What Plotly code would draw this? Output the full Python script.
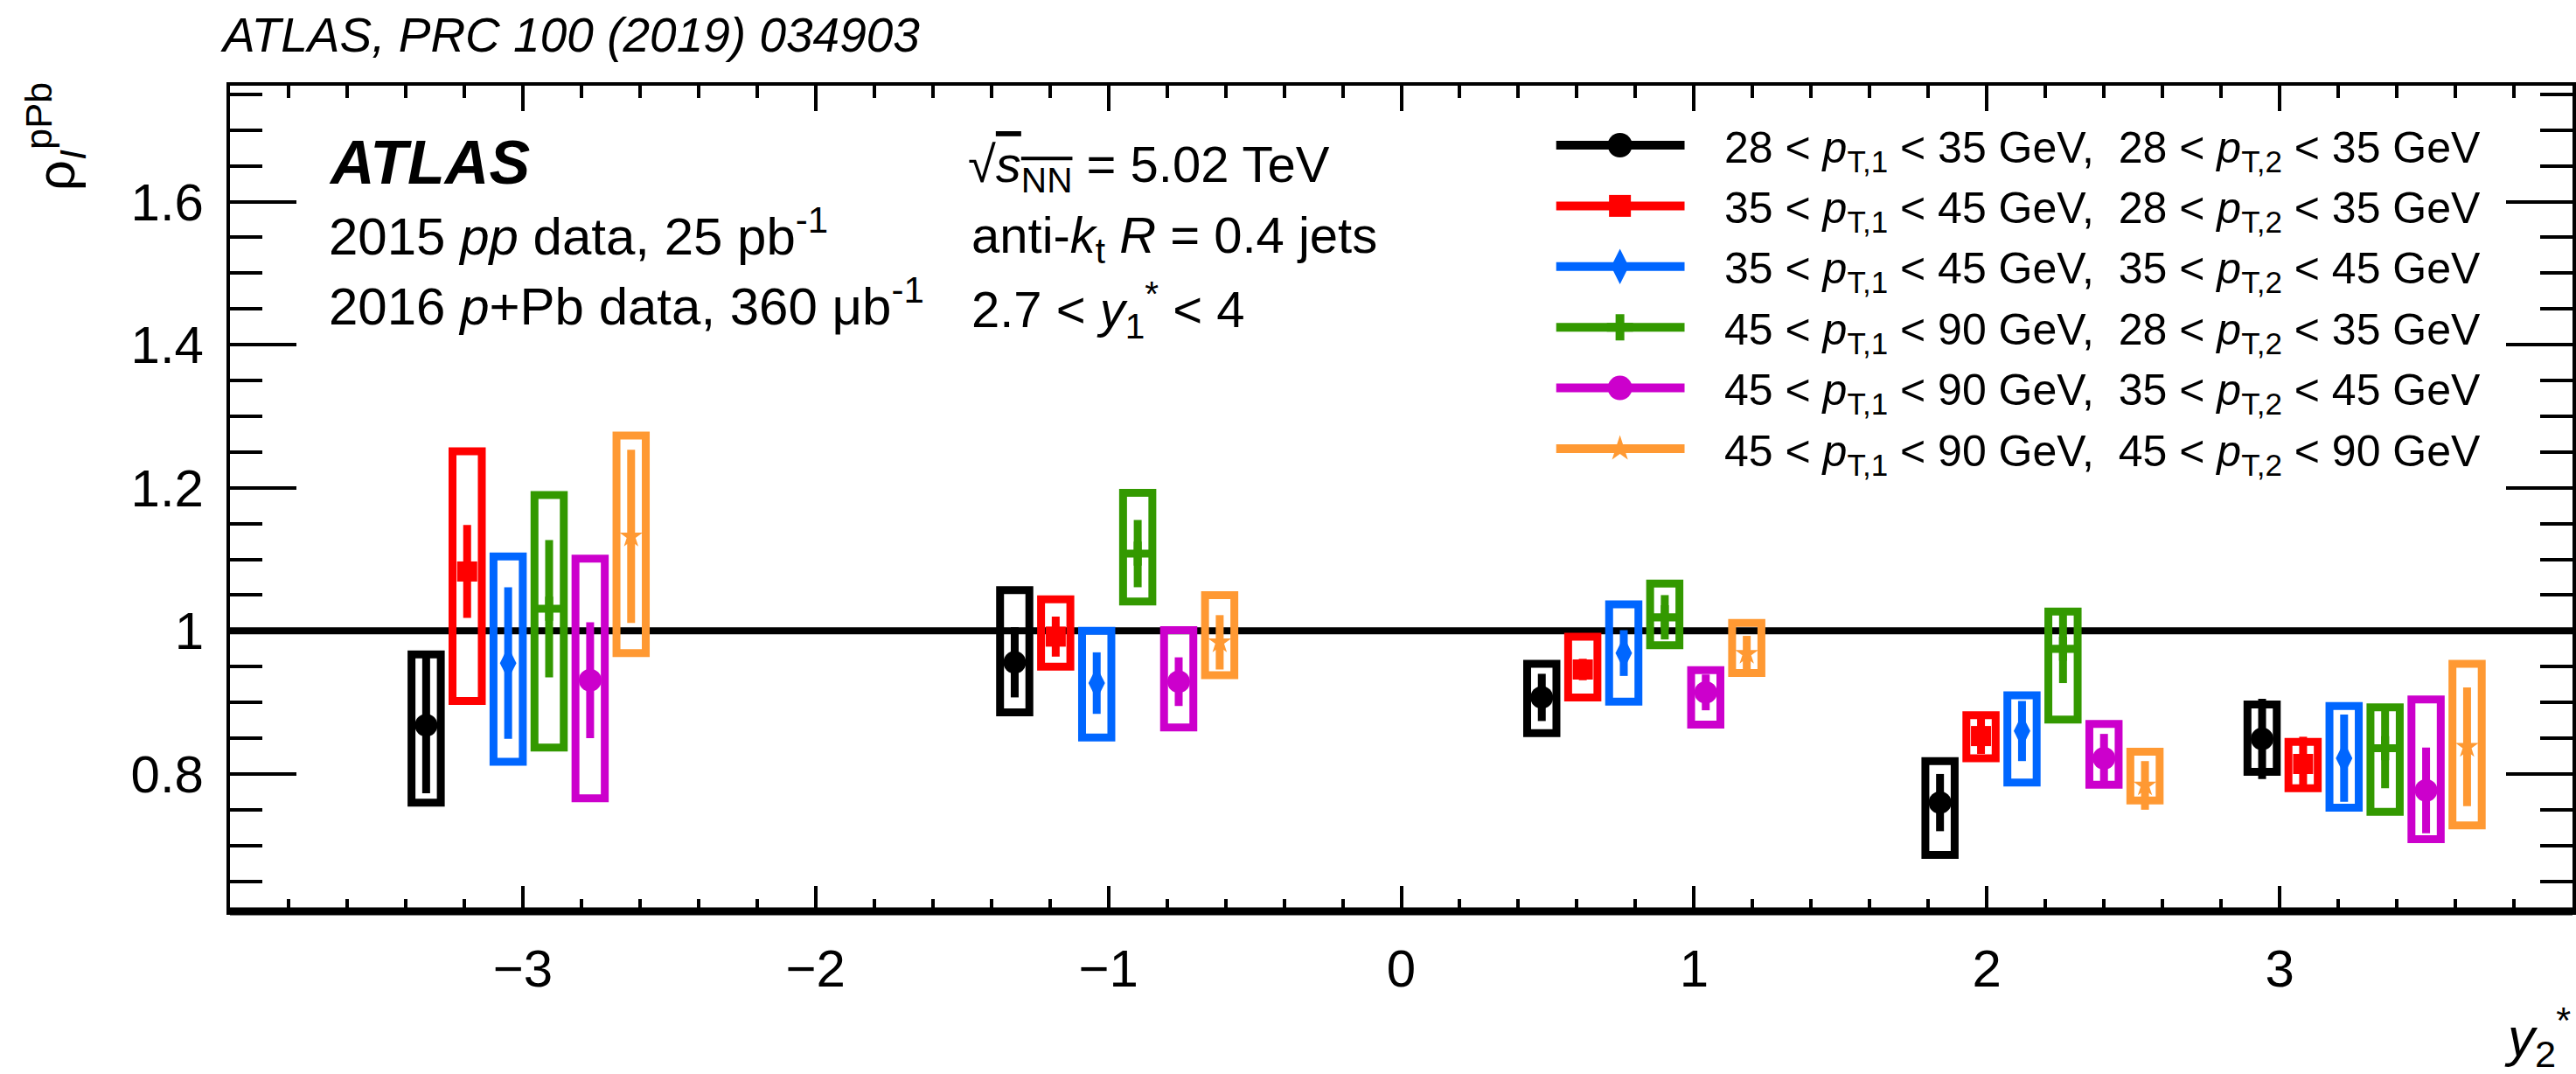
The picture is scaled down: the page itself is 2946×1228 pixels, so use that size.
import plotly.graph_objects as go

# ---------------- data ----------------
series_labels = [
    "28 &lt; <i>p</i><sub>T,1</sub> &lt; 35 GeV,\u00a0\u00a028 &lt; <i>p</i><sub>T,2</sub> &lt; 35 GeV",
    "35 &lt; <i>p</i><sub>T,1</sub> &lt; 45 GeV,\u00a0\u00a028 &lt; <i>p</i><sub>T,2</sub> &lt; 35 GeV",
    "35 &lt; <i>p</i><sub>T,1</sub> &lt; 45 GeV,\u00a0\u00a035 &lt; <i>p</i><sub>T,2</sub> &lt; 45 GeV",
    "45 &lt; <i>p</i><sub>T,1</sub> &lt; 90 GeV,\u00a0\u00a028 &lt; <i>p</i><sub>T,2</sub> &lt; 35 GeV",
    "45 &lt; <i>p</i><sub>T,1</sub> &lt; 90 GeV,\u00a0\u00a035 &lt; <i>p</i><sub>T,2</sub> &lt; 45 GeV",
    "45 &lt; <i>p</i><sub>T,1</sub> &lt; 90 GeV,\u00a0\u00a045 &lt; <i>p</i><sub>T,2</sub> &lt; 90 GeV",
]

# y2* positions of the points (each pT selection is offset inside a y2* bin)
y2_s0 = [-3.33, -1.32, 0.48, 1.84, 2.94]
y2_s1 = [-3.19, -1.18, 0.62, 1.98, 3.08]
y2_s2 = [-3.05, -1.04, 0.76, 2.12, 3.22]
y2_s3 = [-2.91, -0.90, 0.90, 2.26, 3.36]
y2_s4 = [-2.77, -0.76, 1.04, 2.40, 3.50]
y2_s5 = [-2.63, -0.62, 1.18, 2.54, 3.64]

# central values rho_I^pPb
rho_s0 = [0.868, 0.956, 0.907, 0.760, 0.849]
rho_s1 = [1.083, 0.992, 0.946, 0.853, 0.814]
rho_s2 = [0.955, 0.927, 0.969, 0.860, 0.822]
rho_s3 = [1.031, 1.108, 1.019, 0.975, 0.836]
rho_s4 = [0.931, 0.929, 0.914, 0.822, 0.777]
rho_s5 = [1.132, 0.984, 0.968, 0.784, 0.838]

# statistical uncertainties (symmetric)
stat_s0 = [0.095, 0.049, 0.033, 0.040, 0.056]
stat_s1 = [0.065, 0.028, 0.015, 0.025, 0.038]
stat_s2 = [0.106, 0.043, 0.032, 0.042, 0.061]
stat_s3 = [0.096, 0.047, 0.031, 0.048, 0.056]
stat_s4 = [0.081, 0.034, 0.025, 0.034, 0.060]
stat_s5 = [0.121, 0.038, 0.025, 0.034, 0.083]

# systematic band: lower / upper edges
syslo_s0 = [0.760, 0.886, 0.857, 0.687, 0.803]
syshi_s0 = [0.967, 1.057, 0.954, 0.818, 0.897]
syslo_s1 = [0.902, 0.950, 0.907, 0.822, 0.780]
syshi_s1 = [1.251, 1.044, 0.992, 0.882, 0.845]
syslo_s2 = [0.817, 0.851, 0.901, 0.788, 0.753]
syshi_s2 = [1.104, 1.000, 1.037, 0.910, 0.895]
syslo_s3 = [0.837, 1.041, 0.980, 0.876, 0.747]
syshi_s3 = [1.190, 1.193, 1.066, 1.027, 0.893]
syslo_s4 = [0.766, 0.865, 0.869, 0.785, 0.709]
syshi_s4 = [1.101, 1.001, 0.945, 0.870, 0.904]
syslo_s5 = [0.969, 0.938, 0.941, 0.763, 0.728]
syshi_s5 = [1.273, 1.050, 1.011, 0.831, 0.954]

x_tick_vals = [-3, -2, -1, 0, 1, 2, 3]
x_tick_text = ["\u22123", "\u22122", "\u22121", "0", "1", "2", "3"]
y_tick_vals = [0.8, 1.0, 1.2, 1.4, 1.6]
y_tick_text = ["0.8", "1", "1.2", "1.4", "1.6"]

# ---------------- style ----------------
colors = ["#000000", "#ff0000", "#0066ff", "#339900", "#cc00cc", "#ff9933"]
symbols = ["circle", "square", "diamond-tall", "cross", "circle", "star"]
msizes = [26, 23, 27, 23, 26, 20]

W, H = 2946, 1228
ML, MR, MT, MB = 263, 0, 98, 186
PW = W - ML - MR
PH = H - MT - MB
FONT = "Liberation Sans, Arial, Helvetica, sans-serif"
BOX_HW = 0.05


def xp(px):
    return (px - ML) / PW


def yp(py):
    return (H - MB - py) / PH


series = [
    (y2_s0, rho_s0, stat_s0, syslo_s0, syshi_s0),
    (y2_s1, rho_s1, stat_s1, syslo_s1, syshi_s1),
    (y2_s2, rho_s2, stat_s2, syslo_s2, syshi_s2),
    (y2_s3, rho_s3, stat_s3, syslo_s3, syshi_s3),
    (y2_s4, rho_s4, stat_s4, syslo_s4, syshi_s4),
    (y2_s5, rho_s5, stat_s5, syslo_s5, syshi_s5),
]

fig = go.Figure()
shapes = []

# reference line at 1
shapes.append(dict(type="line", xref="paper", yref="y", x0=0, x1=1, y0=1, y1=1,
                   line=dict(color="black", width=8), layer="below"))

for i, (xs, ys, st, lo, hi) in enumerate(series):
    c = colors[i]
    for xv, l, h in zip(xs, lo, hi):
        shapes.append(dict(type="rect", xref="x", yref="y",
                           x0=xv - BOX_HW, x1=xv + BOX_HW, y0=l, y1=h,
                           line=dict(color=c, width=9),
                           fillcolor="rgba(0,0,0,0)", layer="below"))
    fig.add_trace(go.Scatter(
        x=xs, y=ys, mode="markers", showlegend=False,
        marker=dict(symbol=symbols[i], size=msizes[i], color=c, line=dict(width=0)),
        error_y=dict(type="data", array=st, symmetric=True, thickness=9, width=0, color=c),
    ))

# ---------------- custom legend ----------------
LEG_X0, LEG_X1, LEG_MX, LEG_TX = 1782, 1929, 1855, 1973
LEG_Y0, LEG_DY = 166, 69.4
annotations = []
for i in range(6):
    ry = LEG_Y0 + i * LEG_DY
    shapes.append(dict(type="line", xref="x2", yref="y2", x0=LEG_X0, x1=LEG_X1, y0=ry, y1=ry,
                       line=dict(color=colors[i], width=10), layer="below"))
    fig.add_trace(go.Scatter(
        x=[LEG_MX], y=[ry], xaxis="x2", yaxis="y2", mode="markers", showlegend=False,
        marker=dict(symbol=symbols[i], size=msizes[i] + 2, color=colors[i], line=dict(width=0)),
        hoverinfo="skip"))
    annotations.append(dict(xref="paper", yref="paper", x=xp(LEG_TX), y=yp(ry + 6),
                            xanchor="left", yanchor="middle", showarrow=False,
                            text=series_labels[i], font=dict(family=FONT, size=50, color="black")))

# ---------------- texts ----------------
def txt(px, py, s, size, xanchor="left", yanchor="middle", angle=0):
    annotations.append(dict(xref="paper", yref="paper", x=xp(px), y=yp(py), text=s,
                            xanchor=xanchor, yanchor=yanchor, showarrow=False, textangle=angle,
                            font=dict(family=FONT, size=size, color="black")))

txt(250, 40, "<i>ATLAS, PRC 100 (2019) 034903</i>", 55)
txt(374, 186, "<b><i>ATLAS</i></b>", 70)
txt(374, 266, "2015 <i>pp</i> data, 25 pb<sup>-1</sup>", 60)
txt(374, 346, "2016 <i>p</i>+Pb data, 360 \u03bcb<sup>-1</sup>", 60)
txt(1106, 192, "\u221a<span style='text-decoration:overline'><i>s</i><sub>NN</sub></span> = 5.02 TeV", 58)
txt(1110, 273, "anti-<i>k</i><sub>t</sub> <i>R</i> = 0.4 jets", 58)
txt(1110, 354, "2.7 &lt; <i>y</i><sub>1</sub><sup>*</sup> &lt; 4", 58)

# axis titles
txt(64, 156, "\u03c1<sub><i>I</i></sub><sup>pPb</sup>", 62, xanchor="center", yanchor="middle", angle=-90)
txt(2946, 1140, "<i>y</i><sub>2</sub><sup>*</sup>", 62, xanchor="right", yanchor="top")

# thick bottom axis
shapes.append(dict(type="line", xref="paper", yref="paper", x0=0, x1=1, y0=0, y1=0,
                   line=dict(color="black", width=9), layer="above"))

axis_common = dict(showgrid=False, zeroline=False, showline=True, linecolor="black", linewidth=4,
                   mirror="allticks", ticks="inside", tickcolor="black", tickwidth=4,
                   tickfont=dict(family=FONT, size=60, color="black"))

fig.update_layout(
    width=W, height=H, autosize=False,
    margin=dict(l=ML, r=MR, t=MT, b=MB, pad=0),
    paper_bgcolor="white", plot_bgcolor="white",
    showlegend=False,
    xaxis=dict(range=[-4, 4], tickmode="array", tickvals=x_tick_vals, ticktext=x_tick_text,
               ticklen=29, ticklabelstandoff=10,
               minor=dict(ticks="inside", ticklen=14, tickwidth=4, tickcolor="black",
                          tickmode="linear", tick0=0, dtick=0.2, showgrid=False),
               **axis_common),
    yaxis=dict(range=[0.608, 1.762], tickmode="array", tickvals=y_tick_vals, ticktext=y_tick_text,
               ticklen=76, ticklabelstandoff=14,
               minor=dict(ticks="inside", ticklen=37, tickwidth=4, tickcolor="black",
                          tickmode="linear", tick0=0, dtick=0.05, showgrid=False),
               **axis_common),
    xaxis2=dict(overlaying="x", range=[ML, W - MR], visible=False, fixedrange=True, anchor="y2"),
    yaxis2=dict(overlaying="y", range=[H - MB, MT], visible=False, fixedrange=True, anchor="x2"),
    shapes=shapes,
    annotations=annotations,
)

fig.write_html("out.html")
